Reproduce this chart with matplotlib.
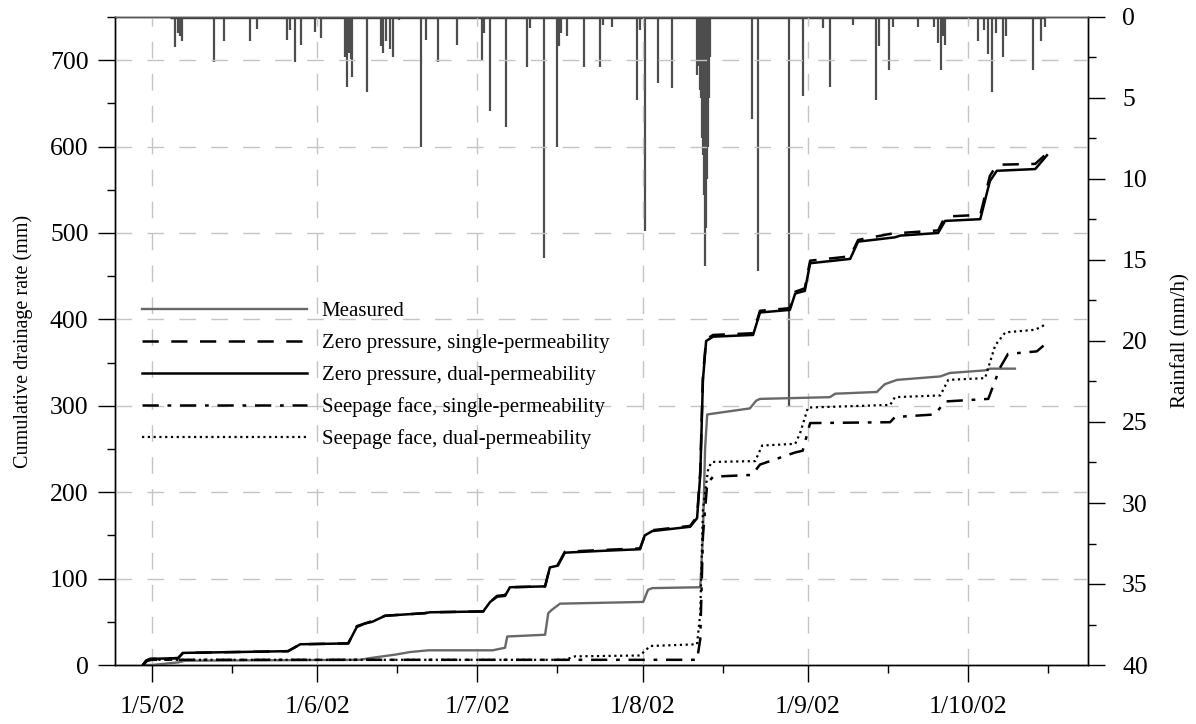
import matplotlib
matplotlib.use("Agg")
import matplotlib.pyplot as plt
import matplotlib.dates as mdates
from matplotlib.ticker import MultipleLocator, FuncFormatter
from datetime import datetime
import numpy as np

plt.rcParams['font.family'] = ['Liberation Serif', 'DejaVu Serif']
plt.rcParams['font.size'] = 14.5

# ---- data (time in days since 1 May 2002) ----
zp_dual_t = [-1.7, -1.1, -0.4, 4.9, 5.8, 25.5, 27.8, 36.8, 38.4, 39.9, 41.3, 43.7, 51.2, 52.1,
             62.1, 63.4, 64.7, 66.2, 67.1, 73.7, 74.6, 76.1, 77.4, 84.0, 91.5, 92.4, 93.8,
             100.9, 102.2, 102.8, 103.3, 103.9, 105.2, 112.7, 114.0, 119.6, 120.6, 122.4,
             123.4, 130.9, 132.4, 139.3, 140.3, 147.4, 148.7, 155.3, 157.1, 158.4, 165.6,
             167.4, 167.8]
zp_dual_v = [0, 5, 7, 8, 14, 16, 24, 25, 44, 48, 50, 57, 60, 61,
             62, 73, 79, 80, 90, 91, 113, 115, 130, 132, 134, 150, 155,
             160, 170, 220, 330, 375, 380, 382, 408, 411, 430, 433,
             465, 470, 490, 495, 497, 500, 514, 516, 560, 572, 574,
             587, 590]

zp_single_t = zp_dual_t
zp_single_v = [0, 5, 7, 8, 14, 16, 24, 25, 45, 48, 51, 57, 60, 61,
               62, 73, 80, 81, 90, 91, 113, 116, 131, 133, 135, 150, 156,
               161, 172, 225, 335, 377, 382, 384, 410, 413, 432, 436,
               468, 473, 492, 500, 500, 503, 519, 521, 566, 579, 580,
               590, 593]

meas_t = [-1.7, 0.0, 4.9, 6.2, 39.0, 40.9, 45.6, 48.4, 51.8, 63.9, 66.2, 66.6, 73.7, 74.3,
          75.0, 76.5, 92.1, 93.0, 93.8, 102.8, 103.3, 103.7, 104.1, 112.1, 113.3, 114.0,
          127.1, 128.1, 135.9, 137.4, 139.7, 147.8, 149.6, 156.2, 157.1, 161.8]
meas_v = [0, 0, 3, 5, 6, 8, 12, 15, 17, 17, 20, 33, 35, 60,
          64, 71, 73, 87, 89, 90, 150, 250, 290, 297, 306, 308,
          310, 314, 316, 325, 330, 334, 338, 341, 343, 343]

sf_single_t = [-1.7, -0.9, 0.0, 102.2, 102.8, 103.3, 104.1, 105.2, 112.5, 114.0, 120.6, 122.0,
               123.4, 138.4, 139.3, 146.8, 148.7, 156.8, 159.0, 160.5, 165.9, 167.8]
sf_single_v = [0, 5, 6, 6, 30, 150, 210, 218, 220, 232, 246, 248,
               280, 281, 287, 290, 305, 308, 344, 360, 363, 373]

sf_dual_t = [-1.7, -0.9, 0.0, 77.4, 79.3, 91.5, 93.4, 102.2, 102.8, 103.3, 104.3, 105.0, 113.1,
             114.4, 120.6, 121.5, 123.0, 138.4, 139.3, 147.8, 149.3, 156.2, 158.1, 160.0,
             165.6, 167.8]
sf_dual_v = [0, 5, 6, 6, 10, 11, 22, 24, 60, 180, 228, 235, 236,
             254, 256, 268, 298, 301, 310, 312, 330, 332, 370, 385,
             388, 395]

rain_t = [4.3, 4.9, 5.3, 5.6, 11.6, 13.5, 18.4, 19.7, 25.3, 25.9, 26.8, 27.9, 30.6, 31.7,
          36.2, 36.6, 37.0, 37.3, 37.5, 40.3, 42.9, 43.3, 43.9, 44.6, 45.2, 46.3, 50.4, 51.4,
          53.6, 57.2, 61.9, 62.3, 63.4, 66.4, 70.3, 70.9, 73.5, 75.9, 76.3, 76.7, 77.8, 81.0,
          84.0, 84.6, 86.3, 90.9, 91.5, 92.4, 94.9, 97.5,
          102.2, 102.4, 102.6, 102.8, 103.0, 103.2, 103.3, 103.5, 103.7, 103.9, 104.1, 104.3,
          104.5, 104.7,
          112.5, 113.6, 119.4, 122.1, 125.8, 127.1, 131.4, 135.8, 136.3, 138.2, 138.9, 143.6,
          146.6, 147.3, 147.9, 148.3, 148.7, 154.9, 156.0, 156.8, 157.5, 158.3, 159.6, 160.1,
          165.2, 166.7, 167.4]
rain_v = [1.85, 1.0, 1.2, 1.5, 2.8, 1.5, 1.5, 0.75, 1.4, 0.8, 2.8, 1.7, 0.9, 1.3,
          2.5, 4.3, 2.2, 2.6, 3.7, 4.6, 1.8, 2.2, 1.5, 2.0, 2.5, 0.2, 8.0, 1.4,
          2.8, 1.7, 2.7, 1.0, 5.8, 6.8, 3.1, 0.7, 14.9, 8.0, 1.8, 1.0, 1.2, 3.1,
          3.1, 0.5, 0.6, 5.1, 0.8, 13.2, 4.1, 4.4,
          3.6, 2.8, 3.0, 4.5, 5.0, 7.5, 8.5, 11.0, 15.4, 13.0, 10.0, 8.0,
          5.0, 2.5,
          6.3, 15.7, 24.0, 4.9, 0.7, 4.3, 0.5, 5.1, 1.8, 3.3, 0.6, 0.6,
          0.6, 1.6, 3.3, 1.2, 1.7, 1.5, 0.8, 2.3, 4.6, 1.0, 2.5, 1.2,
          3.3, 1.5, 0.6]

labels = ["Measured",
          "Zero pressure, single-permeability",
          "Zero pressure, dual-permeability",
          "Seepage face, single-permeability",
          "Seepage face, dual-permeability"]

# ---- figure ----
base = mdates.date2num(datetime(2002, 5, 1))
def T(a):
    return base + np.asarray(a, dtype=float)

fig = plt.figure(figsize=(11.96, 7.24), dpi=100)
ax = fig.add_axes([115/1196, 1 - 665/724, (1088-115)/1196, (665-17)/724])
ax2 = ax.twinx()

grid_kw = dict(color='#c4c4c4', lw=1.0, dashes=(12, 11))

# Rainfall on secondary (inverted) axis
ax2.vlines(T(rain_t), 0, rain_v, color='#4d4d4d', lw=1.6, zorder=2)
ax2.hlines(0, T(rain_t).min() - 1, T(rain_t).max(), color='#4d4d4d', lw=2.5, zorder=2)
ax2.set_ylim(40, 0)
ax2.yaxis.set_major_locator(MultipleLocator(5))
ax2.yaxis.set_minor_locator(MultipleLocator(2.5))
ax2.set_ylabel("Rainfall (mm/h)", labelpad=17, fontsize=15)

# Drainage curves on primary axis (drawn above rainfall)
ax.set_zorder(ax2.get_zorder() + 1)
ax.patch.set_visible(False)

l1, = ax.plot(T(meas_t), meas_v, color='#686868', lw=1.7, label=labels[0])
l2, = ax.plot(T(zp_single_t), zp_single_v, color='black', lw=1.8, dashes=(6.5, 5), label=labels[1])
l3, = ax.plot(T(zp_dual_t), zp_dual_v, color='black', lw=1.8, label=labels[2])
l4, = ax.plot(T(sf_single_t), sf_single_v, color='black', lw=1.8, dashes=(6.5, 3.5, 1.5, 3.5), label=labels[3])
l5, = ax.plot(T(sf_dual_t), sf_dual_v, color='black', lw=1.6, dashes=(1, 1.6), label=labels[4])

ax.set_ylim(0, 750)
ax.set_xlim(base - 6.94, base + 175.5)
ax.yaxis.set_major_locator(MultipleLocator(100))
ax.yaxis.set_minor_locator(MultipleLocator(50))
ax.xaxis.set_major_locator(mdates.MonthLocator(bymonthday=1))
ax.xaxis.set_minor_locator(mdates.MonthLocator(bymonthday=16))
ax.xaxis.set_major_formatter(FuncFormatter(
    lambda v, p: (lambda d: f"{d.day}/{d.month}/{d:%y}")(mdates.num2date(v))))
ax.set_ylabel("Cumulative drainage rate (mm)", labelpad=12, fontsize=14.5)

# grid
for yv in range(100, 750, 100):
    ax.axhline(yv, zorder=0, **grid_kw)
for xv in ax.get_xticks():
    ax.axvline(xv, zorder=0, **grid_kw)

for a in (ax, ax2):
    a.tick_params(which='major', direction='out', length=12, width=1, labelsize=18.5)
    a.tick_params(which='minor', direction='out', length=6, width=1)
    for s in a.spines.values():
        s.set_linewidth(1.0)
ax.tick_params(axis='y', which='major', pad=7)
ax.tick_params(axis='x', which='major', pad=10)
ax2.tick_params(axis='y', which='major', pad=12.5)
ax.spines['top'].set_color('#555555')

leg = ax.legend(handles=[l1, l2, l3, l4, l5], loc='upper left',
                bbox_to_anchor=(0.0277, 0.561), frameon=False, borderpad=0,
                borderaxespad=0, handlelength=7.9, handletextpad=0.72,
                labelspacing=0.59, fontsize=15)

fig.savefig("out.png", dpi=100)
